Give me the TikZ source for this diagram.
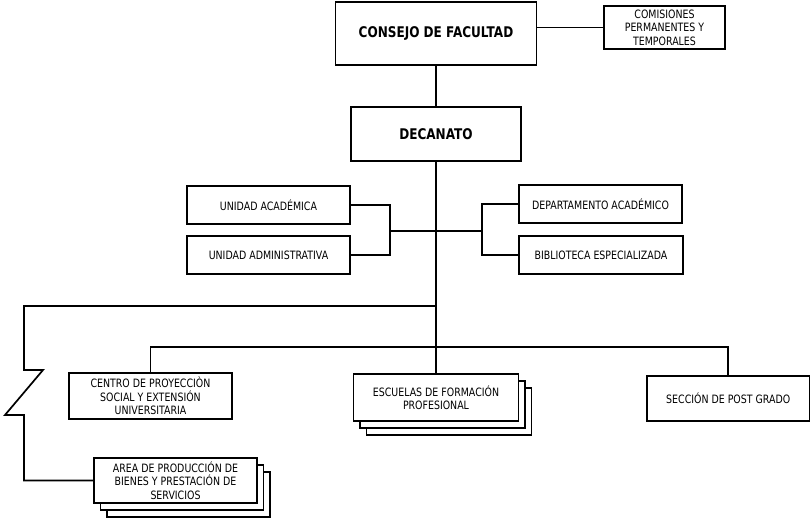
\documentclass[tikz,border=0pt]{standalone}
\usepackage{fontspec}
\setmainfont{DejaVu Sans}[FakeStretch=0.82]
\usetikzlibrary{shadows}
\tikzset{
  box/.style={draw, line width=1.7pt, fill=white, inner sep=2pt, align=center,
    font=\fontsize{11.5}{13.5}\selectfont},
  bigbox/.style={box, font=\fontsize{14.7}{17}\selectfont\bfseries},
  ln/.style={line width=1.7pt},
  stackbox/.style={
    copy shadow={shadow xshift=13pt, shadow yshift=-14pt, line width=1.7pt, draw=black, fill=white},
    copy shadow={shadow xshift=6.5pt, shadow yshift=-7pt, line width=1.7pt, draw=black, fill=white}}
}
\begin{document}
\begin{tikzpicture}[x=1pt,y=-1pt]
\useasboundingbox (0,0) rectangle (811,518);
% nodes
\node[bigbox, minimum width=201pt, minimum height=63pt] (cf) at (436,33.5) {\raisebox{3pt}{CONSEJO DE FACULTAD}};
\node[box, minimum width=121pt, minimum height=43pt] (com) at (664.5,27.5) {COMISIONES\\PERMANENTES Y\\TEMPORALES};
\node[bigbox, minimum width=170pt, minimum height=54pt] (dec) at (436,134) {DECANATO};
\node[box, minimum width=163pt, minimum height=38pt] (ua) at (268.5,205) {UNIDAD ACADÉMICA};
\node[box, minimum width=163pt, minimum height=38pt] (uad) at (268.5,255) {UNIDAD ADMINISTRATIVA};
\node[box, minimum width=163pt, minimum height=38pt] (dep) at (600.5,204) {DEPARTAMENTO ACADÉMICO};
\node[box, minimum width=164pt, minimum height=38pt] (bib) at (601,255) {BIBLIOTECA ESPECIALIZADA};
\node[box, minimum width=163pt, minimum height=46pt] (cps) at (150.5,396) {CENTRO DE PROYECCIÒN\\SOCIAL Y EXTENSIÓN\\UNIVERSITARIA};
\node[box, stackbox, minimum width=165pt, minimum height=47pt] (esc) at (436,397.5) {ESCUELAS DE FORMACIÓN\\PROFESIONAL};
\node[box, minimum width=162.5pt, minimum height=45pt] (sec) at (728.25,398.5) {SECCIÓN DE POST GRADO};
\node[box, stackbox, minimum width=163pt, minimum height=45pt] (area) at (175.5,480.5) {AREA DE PRODUCCIÓN DE\\BIENES Y PRESTACIÓN DE\\SERVICIOS};
% junctions
\coordinate (lb) at (390,231);
\coordinate (rb) at (482,231);
\coordinate (j1) at (436,306);
\coordinate (j2) at (436,347);
\coordinate (z1) at (24,306);
% connectors
\draw[ln] (cf) -- (dec);
\draw[ln] (com.west) -- (com.west -| cf.east);
\draw[ln] (dec) -- (esc);
\draw[ln] (ua.east) -| (lb) |- (uad.east);
\draw[ln] (dep.west) -| (rb) |- (bib.west);
\draw[ln] (lb) -- (rb);
\draw[ln] (cps.north) |- (j2) -| (sec.north);
\draw[ln] (j1) -- (z1) -- ++(0,64) -- ++(19,0) -- ++(-38,45) -- ++(19,0) |- (area.west);
\end{tikzpicture}
\end{document}
